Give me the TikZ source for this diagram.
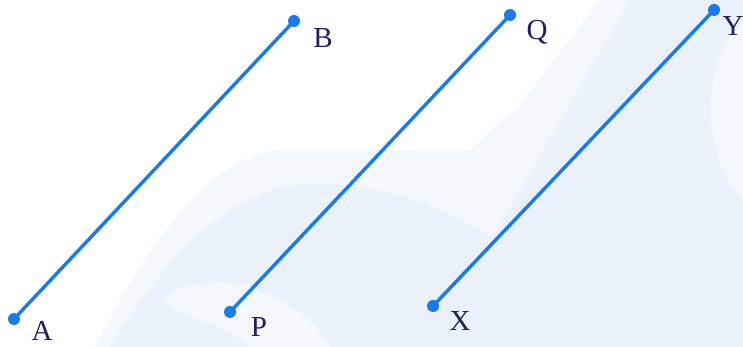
\documentclass[tikz,border=0pt]{standalone}
\usepackage{fontspec}
\setmainfont{Liberation Serif}
\begin{document}
\begin{tikzpicture}[x=1pt,y=-1pt,
  seg/.style={draw=segblue,line width=3.4pt},
  dotpt/.style={circle,fill=segblue,inner sep=0pt,minimum size=12pt},
  lbl/.style={text=lblnavy,font=\fontsize{29}{29}\selectfont,inner sep=0pt}]
\definecolor{segblue}{HTML}{1A7BE8}
\definecolor{lblnavy}{HTML}{231C5E}
\definecolor{wmA}{HTML}{F4F8FC}
\definecolor{wmB}{HTML}{EAF1FA}
\useasboundingbox (0,0) rectangle (743,347);
\fill[white] (0,0) rectangle (743,347);
% faint watermark
\fill[wmA] (95,347) .. controls (140,260) and (200,160) .. (280,150)
  -- (470,150) -- (520,105) -- (600,0) -- (743,0) -- (743,347) -- cycle;
\fill[wmB] (110,347) .. controls (150,280) and (220,190) .. (300,185)
  .. controls (400,180) and (460,220) .. (493,237)
  -- (630,0) -- (743,0) -- (743,20) .. controls (700,60) and (700,160) .. (743,200)
  -- (743,347) -- cycle;
\fill[wmA] (165,300) .. controls (200,260) and (300,290) .. (330,347) -- (250,347) .. controls (220,320) and (180,320) .. (165,300) -- cycle;
% points
\node[dotpt] (A) at (14,319) {};
\node[dotpt] (B) at (294,21) {};
\node[dotpt] (P) at (230,312) {};
\node[dotpt] (Q) at (510,15) {};
\node[dotpt] (X) at (433,306) {};
\node[dotpt] (Y) at (714,10) {};
\draw[seg] (A.center) -- (B.center);
\draw[seg] (P.center) -- (Q.center);
\draw[seg] (X.center) -- (Y.center);
% labels
\node[lbl] (lA) at (42,331) {A};
\node[lbl] (lB) at (323,38) {B};
\node[lbl] (lP) at (259,327) {P};
\node[lbl] (lQ) at (537,32) {Q};
\node[lbl] (lX) at (460,321) {X};
\node[lbl] (lY) at (733,26) {Y};
\end{tikzpicture}
\end{document}
